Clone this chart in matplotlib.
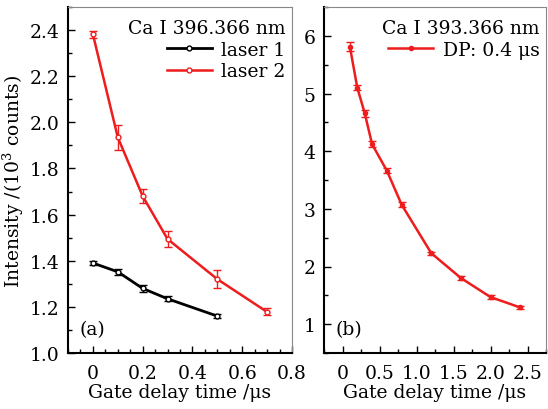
import numpy as np
import matplotlib
matplotlib.use('Agg')
import matplotlib.pyplot as plt
from matplotlib.ticker import MultipleLocator

plt.rcParams['font.family'] = ['DejaVu Serif']
plt.rcParams['mathtext.fontset'] = 'dejavuserif'

# panel (a): Ca I 396.366 nm
t1 = [0, 0.1, 0.2, 0.3, 0.5]
laser1 = [1.39, 1.352, 1.28, 1.235, 1.16]
laser1_err = [0.008, 0.012, 0.015, 0.01, 0.01]

t2 = [0, 0.1, 0.2, 0.3, 0.5, 0.7]
laser2 = [2.382, 1.935, 1.68, 1.494, 1.32, 1.178]
laser2_err = [0.015, 0.055, 0.03, 0.036, 0.038, 0.015]

# panel (b): Ca I 393.366 nm, DP 0.4 us
t3 = [0.1, 0.2, 0.3, 0.4, 0.6, 0.8, 1.2, 1.6, 2.0, 2.4]
dp = [5.81, 5.10, 4.66, 4.12, 3.66, 3.07, 2.23, 1.80, 1.47, 1.29]
dp_err = [0.08, 0.04, 0.06, 0.05, 0.04, 0.04, 0.03, 0.03, 0.03, 0.03]

red = '#ee1c1c'
fig = plt.figure(figsize=(5.48, 4.10), dpi=100)
ax1 = fig.add_axes([68/548, 1-354/410, 224/548, 346/410])
ax2 = fig.add_axes([324/548, 1-354/410, 222/548, 346/410])

fs = 13.5
eb = dict(fmt='none', capsize=3, elinewidth=1, capthick=1)
leg = dict(loc='upper right', bbox_to_anchor=(1.0, 0.985), frameon=False,
           fontsize=fs, title_fontsize=fs, alignment='right',
           handlelength=2.4, handletextpad=0.5, labelspacing=0.2,
           borderaxespad=0.15, borderpad=0.2)

ax1.errorbar(t1, laser1, yerr=laser1_err, ecolor='black', **eb)
ax1.errorbar(t2, laser2, yerr=laser2_err, ecolor=red, **eb)
ax1.plot(t1, laser1, color='black', lw=2, marker='o', ms=3.5,
         mfc='white', mew=1, label='laser 1')
ax1.plot(t2, laser2, color=red, lw=1.8, marker='o', ms=3.5,
         mfc='white', mew=1, label='laser 2')
ax1.set_xlim(-0.1, 0.8)
ax1.set_ylim(1.0, 2.5)
ax1.xaxis.set_minor_locator(MultipleLocator(0.05))
ax1.yaxis.set_major_locator(MultipleLocator(0.2))
ax1.yaxis.set_minor_locator(MultipleLocator(0.1))
ax1.set_xticks([0, 0.2, 0.4, 0.6, 0.8])
ax1.set_xticklabels(['0', '0.2', '0.4', '0.6', '0.8'])
ax1.set_xlabel('Gate delay time /μs', fontsize=fs, labelpad=1)
ax1.set_ylabel('Intensity /(10$^3$ counts)', fontsize=fs, labelpad=3)
ax1.text(0.05, 0.07, '(a)', transform=ax1.transAxes, fontsize=fs, va='center')
ax1.legend(title='Ca I 396.366 nm', **leg)

ax2.errorbar(t3, dp, yerr=dp_err, ecolor=red, **eb)
ax2.plot(t3, dp, color=red, lw=1.8, marker='o', ms=3, label='DP: 0.4 μs')
ax2.set_xlim(-0.25, 2.75)
ax2.set_ylim(0.5, 6.5)
ax2.xaxis.set_minor_locator(MultipleLocator(0.25))
ax2.yaxis.set_major_locator(MultipleLocator(1))
ax2.yaxis.set_minor_locator(MultipleLocator(0.5))
ax2.set_xticks([0, 0.5, 1.0, 1.5, 2.0, 2.5])
ax2.set_xticklabels(['0', '0.5', '1.0', '1.5', '2.0', '2.5'])
ax2.set_xlabel('Gate delay time /μs', fontsize=fs, labelpad=1)
ax2.text(0.05, 0.07, '(b)', transform=ax2.transAxes, fontsize=fs, va='center')
ax2.legend(title='Ca I 393.366 nm', **leg)

for ax in (ax1, ax2):
    ax.tick_params(which='both', direction='in', top=False, right=False,
                   labelsize=fs)
    ax.tick_params(axis='x', which='both', pad=8)
    ax.tick_params(axis='y', which='both', pad=6)
    ax.tick_params(which='major', length=5, width=1)
    ax.tick_params(which='minor', length=3, width=1)
    ax.spines['left'].set_linewidth(1.5)
    ax.spines['bottom'].set_linewidth(1.5)
    ax.spines['top'].set_color('#888888')
    ax.spines['right'].set_color('#888888')

fig.savefig('out.png', dpi=100)
